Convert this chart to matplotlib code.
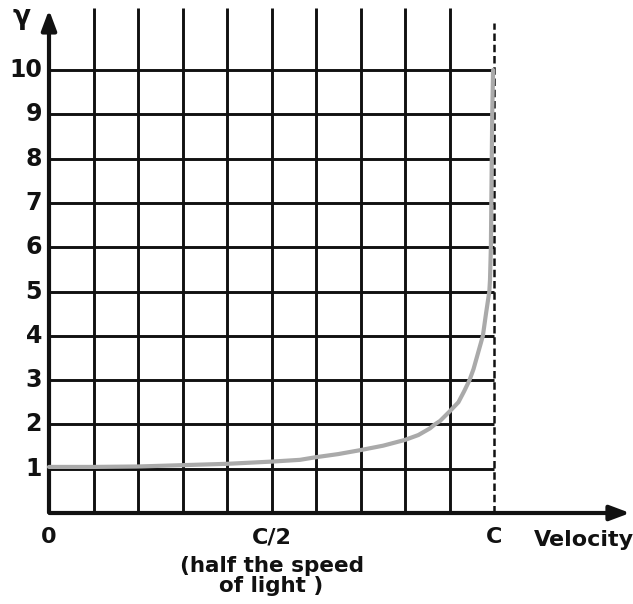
import numpy as np
import matplotlib
matplotlib.use("Agg")
import matplotlib.pyplot as plt

# Lorentz factor curve, read point by point
velocity = [0.0, 0.1, 0.2, 0.3, 0.4, 0.5, 0.564, 0.6, 0.65, 0.7, 0.751, 0.8, 0.83,
            0.856, 0.867, 0.879, 0.9, 0.92, 0.933, 0.945, 0.954, 0.961, 0.968,
            0.975, 0.982, 0.9895, 0.991, 0.993, 0.994, 0.995, 0.996, 0.998]
gamma = [1.04, 1.04, 1.05, 1.08, 1.11, 1.16, 1.20, 1.26, 1.33, 1.42, 1.52, 1.65, 1.76,
         1.91, 2.0, 2.08, 2.29, 2.5, 2.75, 3.0, 3.25, 3.5, 3.75,
         4.0, 4.5, 5.0, 5.26, 6.0, 7.0, 8.0, 9.0, 10.0]

y_ticks = [1, 2, 3, 4, 5, 6, 7, 8, 9, 10]
x_ticks = [0.0, 0.5, 1.0]
x_tick_labels = ["0", "C/2", "C"]

W, H = 633, 604
fig = plt.figure(figsize=(W / 100, H / 100), dpi=100)
ax = fig.add_axes([0, 0, 1, 1])

# pixel anchors: v=0 at x=49, v=1 at x=494; gamma=0 at y=513, gamma=10 at y=70
px_v = 445.0
px_g = 44.3
ax.set_xlim(-49 / px_v, (W - 49) / px_v)
ax.set_ylim(-(H - 513) / px_g, 513 / px_g)
ax.axis("off")

ink = "#111111"
grid_lw = 2.1

# vertical grid lines (the one at c is dashed)
for i in range(1, 10):
    ax.plot([i / 10, i / 10], [0, 11.4], color=ink, lw=grid_lw, solid_capstyle="butt")
ax.plot([1, 1], [0, 11.05], color=ink, lw=1.8, ls=(0, (3, 1.5)))

# horizontal grid lines
for g in y_ticks:
    ax.plot([0, 1], [g, g], color=ink, lw=grid_lw, solid_capstyle="butt")

# axes with arrowheads
ax.annotate("", xy=(0, 11.42), xytext=(0, -0.05),
            arrowprops=dict(arrowstyle="-|>,head_length=1.2,head_width=0.45",
                            color=ink, lw=3))
ax.annotate("", xy=(1.312, 0), xytext=(-0.005, 0),
            arrowprops=dict(arrowstyle="-|>,head_length=1.2,head_width=0.45",
                            color=ink, lw=3))

# the curve
ax.plot(velocity, gamma, color="#aaaaaa", lw=3.0, solid_capstyle="round",
        solid_joinstyle="round", zorder=5)

font = dict(family="DejaVu Sans", weight="bold", color=ink)

for g in y_ticks:
    ax.text(-7 / px_v, g, str(g), ha="right", va="center", fontsize=17, **font)

ax.text(-27 / px_v, 11.2, "γ", ha="center", va="center", fontsize=19, **font)

for v, lab in zip(x_ticks, x_tick_labels):
    ax.text(v, -0.55, lab, ha="center", va="center", fontsize=16, **font)

ax.text(1.202, -0.62, "Velocity", ha="center", va="center", fontsize=16, **font)
ax.text(0.5, -1.42, "(half the speed\nof light )", ha="center", va="center",
        fontsize=15.5, linespacing=1.05, **font)

fig.savefig("out.png", dpi=100)
